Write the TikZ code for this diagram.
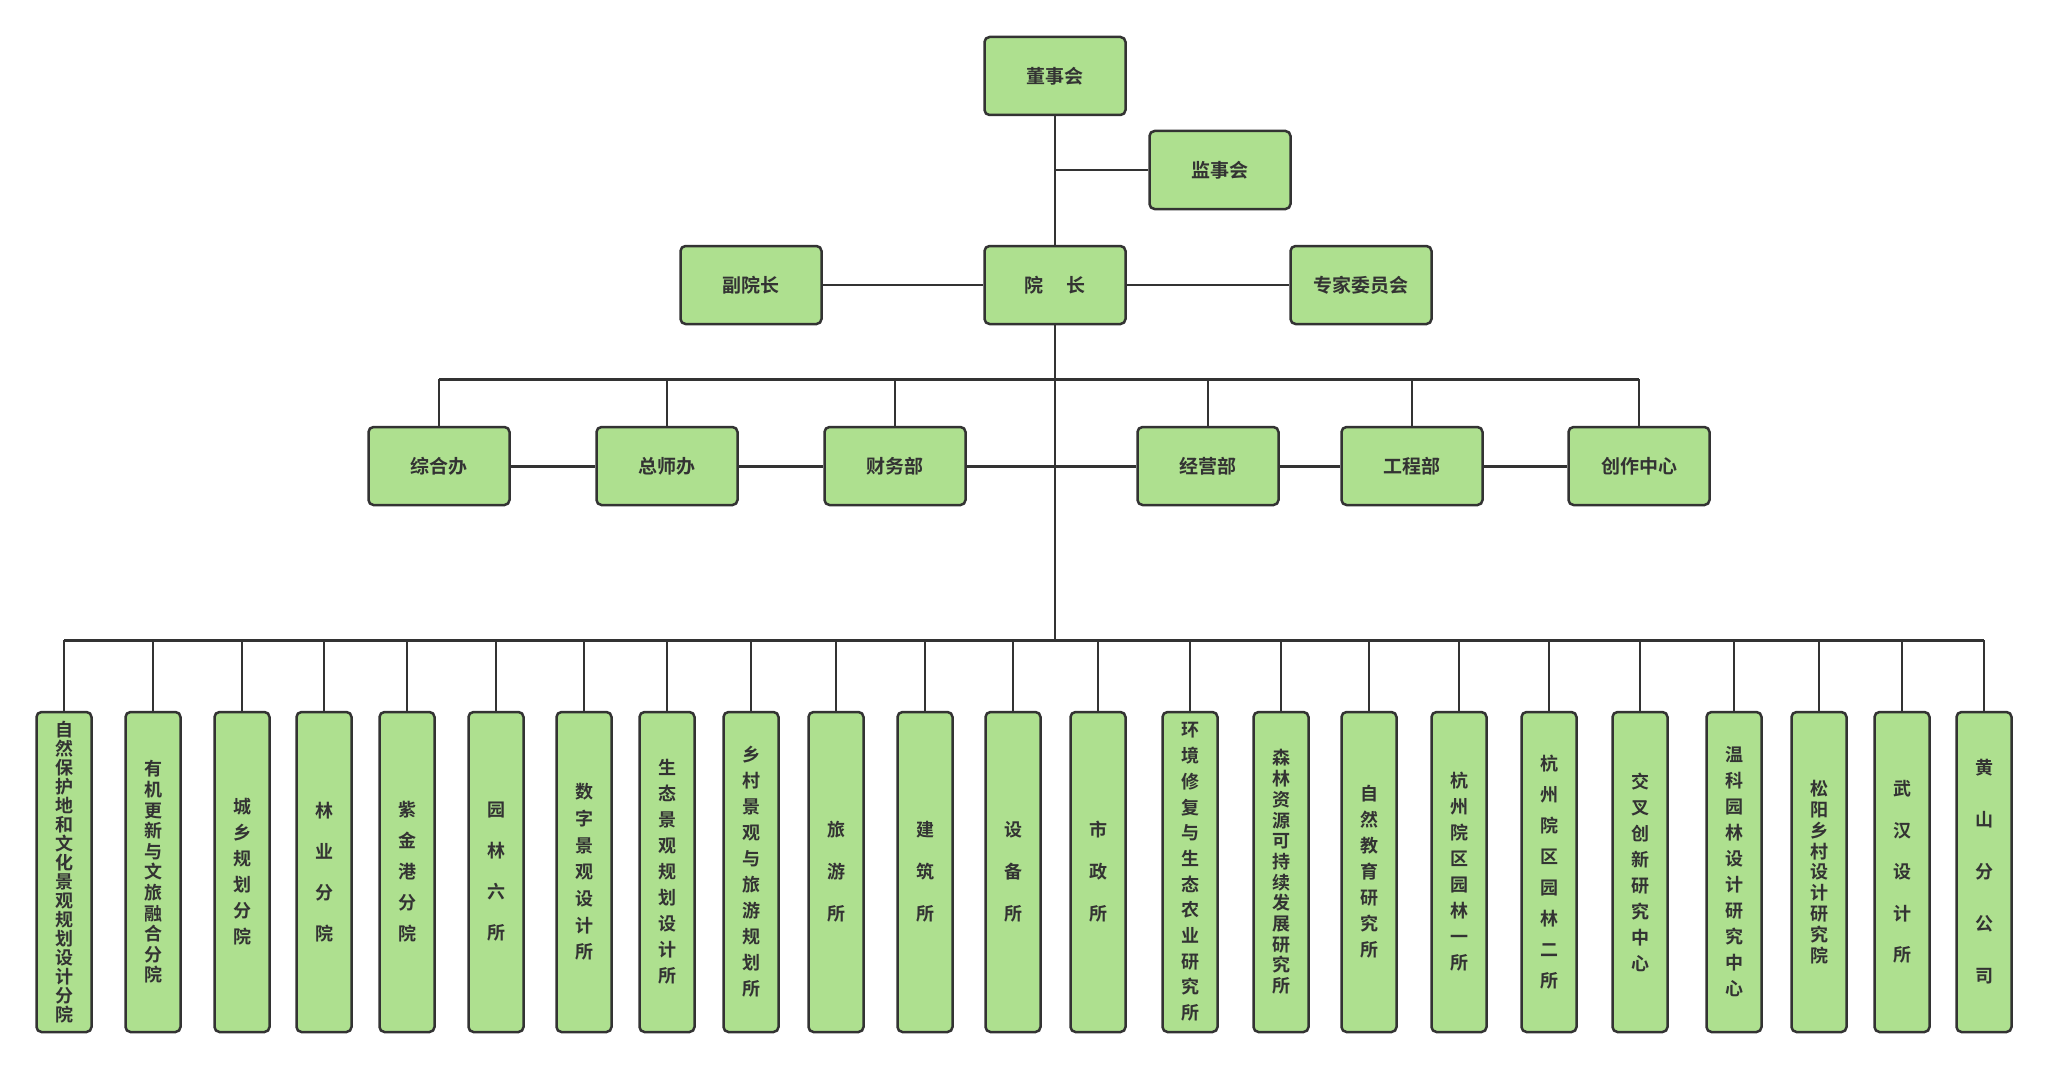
\documentclass[tikz,border=0pt]{standalone}
\usepackage{fontspec}
\newfontfamily\cjk{Noto Sans CJK SC}[BoldFont={Noto Sans CJK SC Bold}]
\usepackage{tikz}
\usetikzlibrary{positioning}
\definecolor{boxgreen}{HTML}{AEE08F}
\definecolor{inkgray}{HTML}{333333}
\makeatletter
% stack characters one above the other
\newcommand{\vstack}[1]{%
    \def\vacc{}\def\vsep{}%
    \@tfor\vch:=#1\do{%
        \edef\vacc{\unexpanded\expandafter{\vacc}\unexpanded\expandafter{\vsep}\vch}%
        \def\vsep{\\}}%
    \vacc}
\makeatother
\tikzset{
    orgbox/.style={draw=inkgray, fill=boxgreen, line width=2.5pt, rounded corners=5pt,
        minimum width=141pt, minimum height=78pt, inner sep=0pt, text=inkgray,
        font=\cjk\bfseries\fontsize{19pt}{21pt}\selectfont},
    unitbox/.style={orgbox, minimum width=55pt, minimum height=320pt, align=center,
        font=\cjk\bfseries\fontsize{18pt}{#1pt}\selectfont},
    link/.style={draw=inkgray, line width=2pt},
    buslink/.style={draw=inkgray, line width=3pt},
}

\begin{document}
\begin{tikzpicture}[x=1pt, y=-1pt]
\useasboundingbox (0,0) rectangle (2048,1070);
	% top
	\node[orgbox] (board) at (1055,76) {董事会};
	\node[orgbox] (super) at (1220,170) {监事会};
	\node[orgbox] (vice) at (751,285) {副院长};
	\node[orgbox] (dean) at (1055,285) {院\hspace{1.2em}长};
	\node[orgbox] (expert) at (1361,285) {专家委员会};
	\coordinate (b1) at (1055,379);
	\coordinate (b2) at (1055,640);
	\draw[link](board.south) -- (dean.north);
	\draw[link](board.south |- super.west) -- (super.west);
	\draw[link](vice.east) -- (dean.west);
	\draw[link](dean.east) -- (expert.west);
	\draw[link](dean.south) -- (b2);
	% departments
	\node[orgbox] (d1) at (439,466) {综合办};
	\node[orgbox] (d2) at (667,466) {总师办};
	\node[orgbox] (d3) at (895,466) {财务部};
	\node[orgbox] (d4) at (1208,466) {经营部};
	\node[orgbox] (d5) at (1412,466) {工程部};
	\node[orgbox] (d6) at (1639,466) {创作中心};
	\draw[buslink](d1.north |- b1) -- (d6.north |- b1);
	\draw[link](d1.north) -- (d1.north |- b1);
	\draw[link](d2.north) -- (d2.north |- b1);
	\draw[link](d3.north) -- (d3.north |- b1);
	\draw[link](d4.north) -- (d4.north |- b1);
	\draw[link](d5.north) -- (d5.north |- b1);
	\draw[link](d6.north) -- (d6.north |- b1);
	\draw[buslink](d1.east) -- (d2.west);
	\draw[buslink](d2.east) -- (d3.west);
	\draw[buslink](d3.east) -- (d4.west);
	\draw[buslink](d4.east) -- (d5.west);
	\draw[buslink](d5.east) -- (d6.west);
	% units
	\node[unitbox=19] (u1) at (64,872) {\vstack{自然保护地和文化景观规划设计分院}};
	\node[unitbox=20.6] (u2) at (153,872) {\vstack{有机更新与文旅融合分院}};
	\node[unitbox=26] (u3) at (242,872) {\vstack{城乡规划分院}};
	\node[unitbox=41] (u4) at (324,872) {\vstack{林业分院}};
	\node[unitbox=31] (u5) at (407,872) {\vstack{紫金港分院}};
	\node[unitbox=41] (u6) at (496,872) {\vstack{园林六所}};
	\node[unitbox=26.7] (u7) at (584,872) {\vstack{数字景观设计所}};
	\node[unitbox=26] (u8) at (667,872) {\vstack{生态景观规划设计所}};
	\node[unitbox=26] (u9) at (751,872) {\vstack{乡村景观与旅游规划所}};
	\node[unitbox=42] (u10) at (836,872) {\vstack{旅游所}};
	\node[unitbox=42] (u11) at (925,872) {\vstack{建筑所}};
	\node[unitbox=42] (u12) at (1013,872) {\vstack{设备所}};
	\node[unitbox=42] (u13) at (1098,872) {\vstack{市政所}};
	\node[unitbox=25.7] (u14) at (1190,872) {\vstack{环境修复与生态农业研究所}};
	\node[unitbox=20.7] (u15) at (1281,872) {\vstack{森林资源可持续发展研究所}};
	\node[unitbox=26] (u16) at (1369,872) {\vstack{自然教育研究所}};
	\node[unitbox=26] (u17) at (1459,872) {\vstack{杭州院区园林一所}};
	\node[unitbox=31] (u18) at (1549,872) {\vstack{杭州院区园林二所}};
	\node[unitbox=26] (u19) at (1640,872) {\vstack{交叉创新研究中心}};
	\node[unitbox=26] (u20) at (1734,872) {\vstack{温科园林设计研究中心}};
	\node[unitbox=20.8] (u21) at (1819,872) {\vstack{松阳乡村设计研究院}};
	\node[unitbox=41.5] (u22) at (1902,872) {\vstack{武汉设计所}};
	\node[unitbox=52] (u23) at (1984,872) {\vstack{黄山分公司}};
	\draw[buslink](u1.north |- b2) -- (u23.north |- b2);
	\draw[link](u1.north) -- (u1.north |- b2);
	\draw[link](u2.north) -- (u2.north |- b2);
	\draw[link](u3.north) -- (u3.north |- b2);
	\draw[link](u4.north) -- (u4.north |- b2);
	\draw[link](u5.north) -- (u5.north |- b2);
	\draw[link](u6.north) -- (u6.north |- b2);
	\draw[link](u7.north) -- (u7.north |- b2);
	\draw[link](u8.north) -- (u8.north |- b2);
	\draw[link](u9.north) -- (u9.north |- b2);
	\draw[link](u10.north) -- (u10.north |- b2);
	\draw[link](u11.north) -- (u11.north |- b2);
	\draw[link](u12.north) -- (u12.north |- b2);
	\draw[link](u13.north) -- (u13.north |- b2);
	\draw[link](u14.north) -- (u14.north |- b2);
	\draw[link](u15.north) -- (u15.north |- b2);
	\draw[link](u16.north) -- (u16.north |- b2);
	\draw[link](u17.north) -- (u17.north |- b2);
	\draw[link](u18.north) -- (u18.north |- b2);
	\draw[link](u19.north) -- (u19.north |- b2);
	\draw[link](u20.north) -- (u20.north |- b2);
	\draw[link](u21.north) -- (u21.north |- b2);
	\draw[link](u22.north) -- (u22.north |- b2);
	\draw[link](u23.north) -- (u23.north |- b2);
\end{tikzpicture}
\end{document}
